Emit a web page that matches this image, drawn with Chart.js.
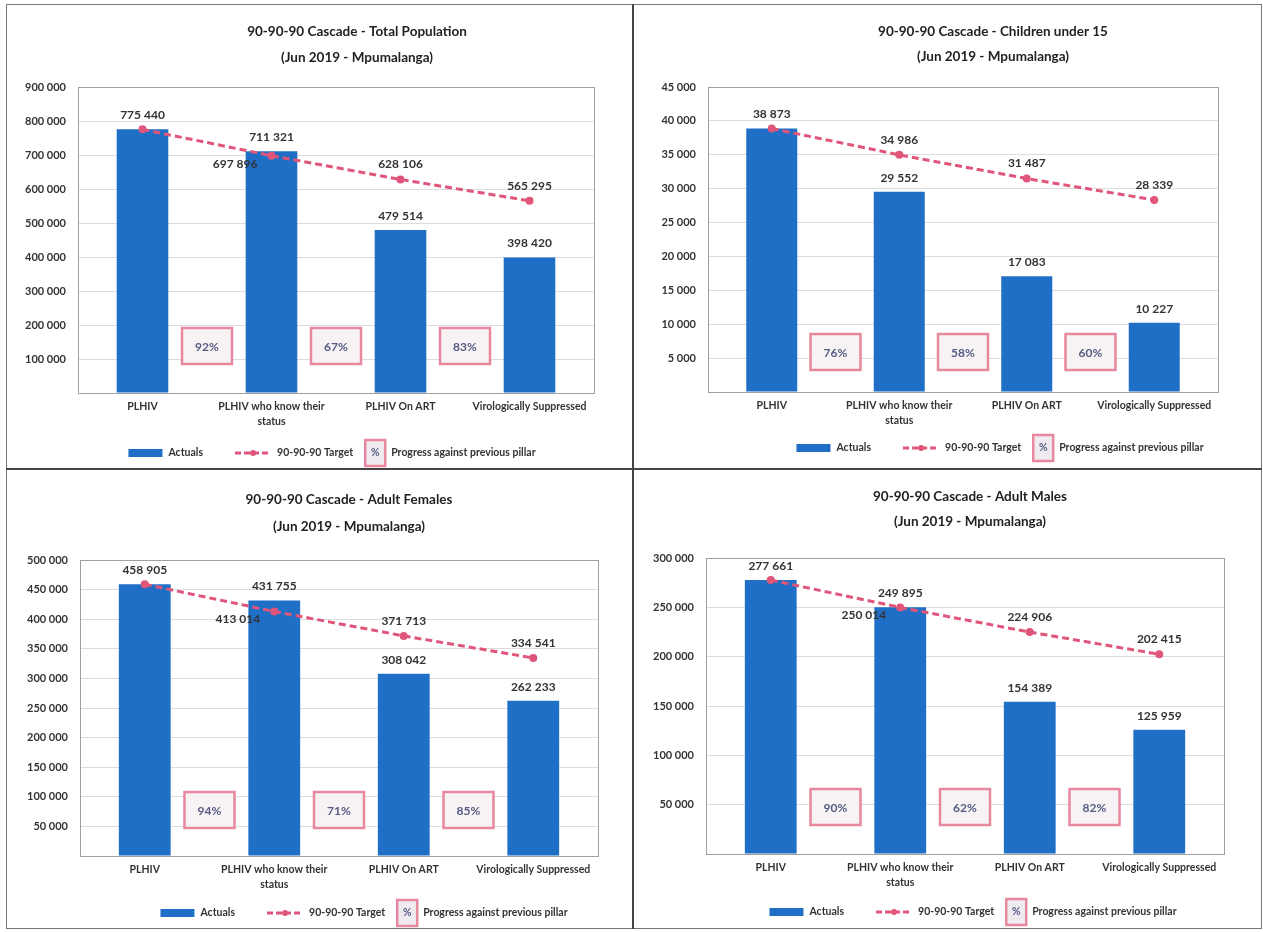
<!DOCTYPE html>
<html>
<head>
<meta charset="utf-8">
<script src="https://cdn.jsdelivr.net/npm/chart.js@4.4.1/dist/chart.umd.min.js"></script>
<style>
  body { margin: 0; background: #fff; width: 1263px; height: 932px; position: relative; overflow: hidden; }
  .frame { position: absolute; left: 6px; top: 4px; width: 1254px; height: 923px; border: 1px solid #777; }
  .vline { position: absolute; left: 632px; top: 4px; width: 2px; height: 925px; background: #444; }
  .hline { position: absolute; left: 6px; top: 468px; width: 1256px; height: 2px; background: #444; }
  canvas { position: absolute; }
</style>
</head>
<body>
<div class="frame"></div>
<div class="vline"></div>
<div class="hline"></div>
<canvas id="total" style="left:8px;top:6px;width:624px;height:462px"></canvas>
<canvas id="children" style="left:635px;top:6px;width:626px;height:462px"></canvas>
<canvas id="females" style="left:8px;top:471px;width:624px;height:457px"></canvas>
<canvas id="males" style="left:635px;top:471px;width:626px;height:457px"></canvas>
<script>
'use strict';

let categories = ['PLHIV', ['PLHIV who know their', 'status'], 'PLHIV On ART', 'Virologically Suppressed'];

let totalActuals = [775440, 711321, 479514, 398420];
let totalTargets = [775440, 697896, 628106, 565295];
let totalProgress = ['92%', '67%', '83%'];

let childActuals = [38873, 29552, 17083, 10227];
let childTargets = [38873, 34986, 31487, 28339];
let childProgress = ['76%', '58%', '60%'];

let femaleActuals = [458905, 431755, 308042, 262233];
let femaleTargets = [458905, 413014, 371713, 334541];
let femaleProgress = ['94%', '71%', '85%'];

let maleActuals = [277661, 250014, 154389, 125959];
let maleTargets = [277661, 249895, 224906, 202415];
let maleProgress = ['90%', '62%', '82%'];

let yMax = [900000, 45000, 500000, 300000];
let yStep = [100000, 5000, 50000, 50000];

let FONT = 'Lato, "Open Sans", sans-serif';
let BLUE = '#1f6fc7';
let PINK = '#e0557a';

function fmt(n) {
    return n.toLocaleString('en-US').replace(/,/g, ' ');
}

// labels, % boxes, title and legend drawn on top of the chart
let decor = {
    id: 'decor',
    afterDatasetsDraw(chart, args, o) {
        let ctx = chart.ctx;
        let x = chart.scales.x;
        let area = chart.chartArea;
        ctx.save();
        ctx.strokeStyle = '#a0a0a0';
        ctx.lineWidth = 1;
        ctx.strokeRect(area.left + 0.5, area.top + 0.5, area.width, area.height);

        let bars = chart.getDatasetMeta(1).data;
        let pts = chart.getDatasetMeta(0).data;
        let act = chart.data.datasets[1].data;
        let tgt = chart.data.datasets[0].data;
        ctx.font = 'bold 12px ' + FONT;
        ctx.fillStyle = '#333';
        ctx.textBaseline = 'middle';
        for (let i = 0; i < bars.length; i++) {
            let above = fmt(act[i]);
            let side = fmt(tgt[i]);
            // the males chart has the two labels of the 2nd pillar placed the other way round
            if (o.swapSecond && i === 1) {
                let t = above; above = side; side = t;
            }
            ctx.textAlign = 'center';
            ctx.fillText(above, bars[i].x, bars[i].y - 14);
            if (i === 0) continue;
            let p = pts[i];
            if (i === 1 && o.secondLeft) {
                ctx.textAlign = 'right';
                ctx.fillText(side, p.x - 14, p.y + 8);
            } else {
                ctx.textAlign = 'center';
                ctx.fillText(side, p.x, p.y - 15);
            }
        }

        o.progress.forEach(function (txt, i) {
            let cx = (x.getPixelForValue(i) + x.getPixelForValue(i + 1)) / 2;
            let cy = area.bottom - o.boxOffset;
            ctx.fillStyle = '#f7f3f5';
            ctx.fillRect(cx - 25, cy - 18, 50, 36);
            ctx.strokeStyle = '#e8889f';
            ctx.lineWidth = 2.5;
            ctx.strokeRect(cx - 25, cy - 18, 50, 36);
            ctx.fillStyle = '#555b82';
            ctx.font = 'bold 12px ' + FONT;
            ctx.textAlign = 'center';
            ctx.fillText(txt, cx, cy + 1);
        });
        ctx.restore();
    },
    afterDraw(chart, args, o) {
        let ctx = chart.ctx;
        ctx.save();
        ctx.fillStyle = '#222';
        ctx.textAlign = 'center';
        ctx.textBaseline = 'middle';
        ctx.font = 'bold 13.5px ' + FONT;
        ctx.fillText(o.title[0], o.titleX, o.titleY[0]);
        ctx.fillText(o.title[1], o.titleX, o.titleY[1]);

        // legend
        ctx.font = 'bold 10.5px ' + FONT;
        let t1 = 'Actuals', t2 = '90-90-90 Target', t3 = 'Progress against previous pillar';
        let w = 34 + 6 + ctx.measureText(t1).width + 32 + 36 + 6 + ctx.measureText(t2).width + 12 + 20 + 6 + ctx.measureText(t3).width;
        let lx = o.legendX - w / 2;
        let ly = o.legendY;
        ctx.textAlign = 'left';
        ctx.fillStyle = BLUE;
        ctx.fillRect(lx, ly - 4, 34, 8);
        lx += 40;
        ctx.fillStyle = '#333';
        ctx.fillText(t1, lx, ly);
        lx += ctx.measureText(t1).width + 32;
        ctx.strokeStyle = PINK;
        ctx.lineWidth = 3;
        ctx.setLineDash([6, 3]);
        ctx.beginPath();
        ctx.moveTo(lx, ly);
        ctx.lineTo(lx + 36, ly);
        ctx.stroke();
        ctx.setLineDash([]);
        ctx.fillStyle = PINK;
        ctx.beginPath();
        ctx.arc(lx + 18, ly, 3, 0, Math.PI * 2);
        ctx.fill();
        lx += 42;
        ctx.fillStyle = '#333';
        ctx.fillText(t2, lx, ly);
        lx += ctx.measureText(t2).width + 12;
        ctx.fillStyle = '#eeeaf0';
        ctx.fillRect(lx, ly - 13, 20, 26);
        ctx.strokeStyle = '#e8889f';
        ctx.lineWidth = 2.5;
        ctx.strokeRect(lx, ly - 13, 20, 26);
        ctx.fillStyle = '#555b82';
        ctx.textAlign = 'center';
        ctx.fillText('%', lx + 10, ly);
        lx += 26;
        ctx.textAlign = 'left';
        ctx.fillStyle = '#333';
        ctx.fillText(t3, lx, ly);
        ctx.restore();
    }
};

function makeChart(id, actuals, targets, progress, k, d) {
    let ctx = document.getElementById(id).getContext('2d');
    return new Chart(ctx, {
        type: 'bar',
        data: {
            labels: categories,
            datasets: [{
                type: 'line',
                label: '90-90-90 Target',
                data: targets,
                borderColor: PINK,
                backgroundColor: PINK,
                borderWidth: 3,
                borderDash: [7, 4],
                pointRadius: 2.5,
                pointHoverRadius: 2.5,
                tension: 0,
                order: 0
            }, {
                label: 'Actuals',
                data: actuals,
                backgroundColor: BLUE,
                barPercentage: 0.4,
                categoryPercentage: 1,
                order: 1
            }]
        },
        options: {
            responsive: false,
            animation: false,
            layout: { padding: { left: 0, right: d.right, top: d.top, bottom: d.bottom } },
            plugins: {
                legend: { display: false },
                tooltip: { enabled: false },
                decor: d
            },
            scales: {
                x: {
                    grid: { display: false, drawTicks: false },
                    border: { color: '#a0a0a0' },
                    ticks: {
                        color: '#333',
                        font: { family: FONT, size: 10.5, weight: 'bold', lineHeight: 1.35 },
                        padding: 7,
                        maxRotation: 0,
                        minRotation: 0,
                        autoSkip: false
                    },
                    afterFit: function (s) { s.height = 40; }
                },
                y: {
                    min: 0,
                    max: yMax[k],
                    grid: { color: '#dcdcdc', drawTicks: false },
                    border: { color: '#a0a0a0' },
                    ticks: {
                        stepSize: yStep[k],
                        color: '#333',
                        padding: 12,
                        font: { family: FONT, size: 11, weight: 'bold' },
                        callback: function (v) { return v === 0 ? '' : fmt(v); }
                    },
                    afterFit: function (s) { s.width = d.left; }
                }
            }
        },
        plugins: [decor]
    });
}

function sizeCanvas(id, w, h) {
    let c = document.getElementById(id);
    c.width = w;
    c.height = h;
}
sizeCanvas('total', 624, 462);
sizeCanvas('children', 626, 462);
sizeCanvas('females', 624, 457);
sizeCanvas('males', 626, 457);

makeChart('total', totalActuals, totalTargets, totalProgress, 0, {
    left: 70, right: 38, top: 81, bottom: 35,
    progress: totalProgress, boxOffset: 47, secondLeft: true, swapSecond: false,
    title: ['90-90-90 Cascade - Total Population', '(Jun 2019 - Mpumalanga)'],
    titleX: 349, titleY: [26, 52], legendX: 324, legendY: 447
});
makeChart('children', childActuals, childTargets, childProgress, 1, {
    left: 73, right: 43, top: 81, bottom: 36,
    progress: childProgress, boxOffset: 40, secondLeft: false, swapSecond: false,
    title: ['90-90-90 Cascade - Children under 15', '(Jun 2019 - Mpumalanga)'],
    titleX: 358, titleY: [26, 51], legendX: 365, legendY: 442
});
makeChart('females', femaleActuals, femaleTargets, femaleProgress, 2, {
    left: 72, right: 34, top: 89, bottom: 32,
    progress: femaleProgress, boxOffset: 46, secondLeft: true, swapSecond: false,
    title: ['90-90-90 Cascade - Adult Females', '(Jun 2019 - Mpumalanga)'],
    titleX: 341, titleY: [29, 56], legendX: 356, legendY: 442
});
makeChart('males', maleActuals, maleTargets, maleProgress, 3, {
    left: 71, right: 37, top: 87, bottom: 34,
    progress: maleProgress, boxOffset: 47, secondLeft: true, swapSecond: true,
    title: ['90-90-90 Cascade - Adult Males', '(Jun 2019 - Mpumalanga)'],
    titleX: 335, titleY: [26, 51], legendX: 338, legendY: 441
});
</script>
</body>
</html>
